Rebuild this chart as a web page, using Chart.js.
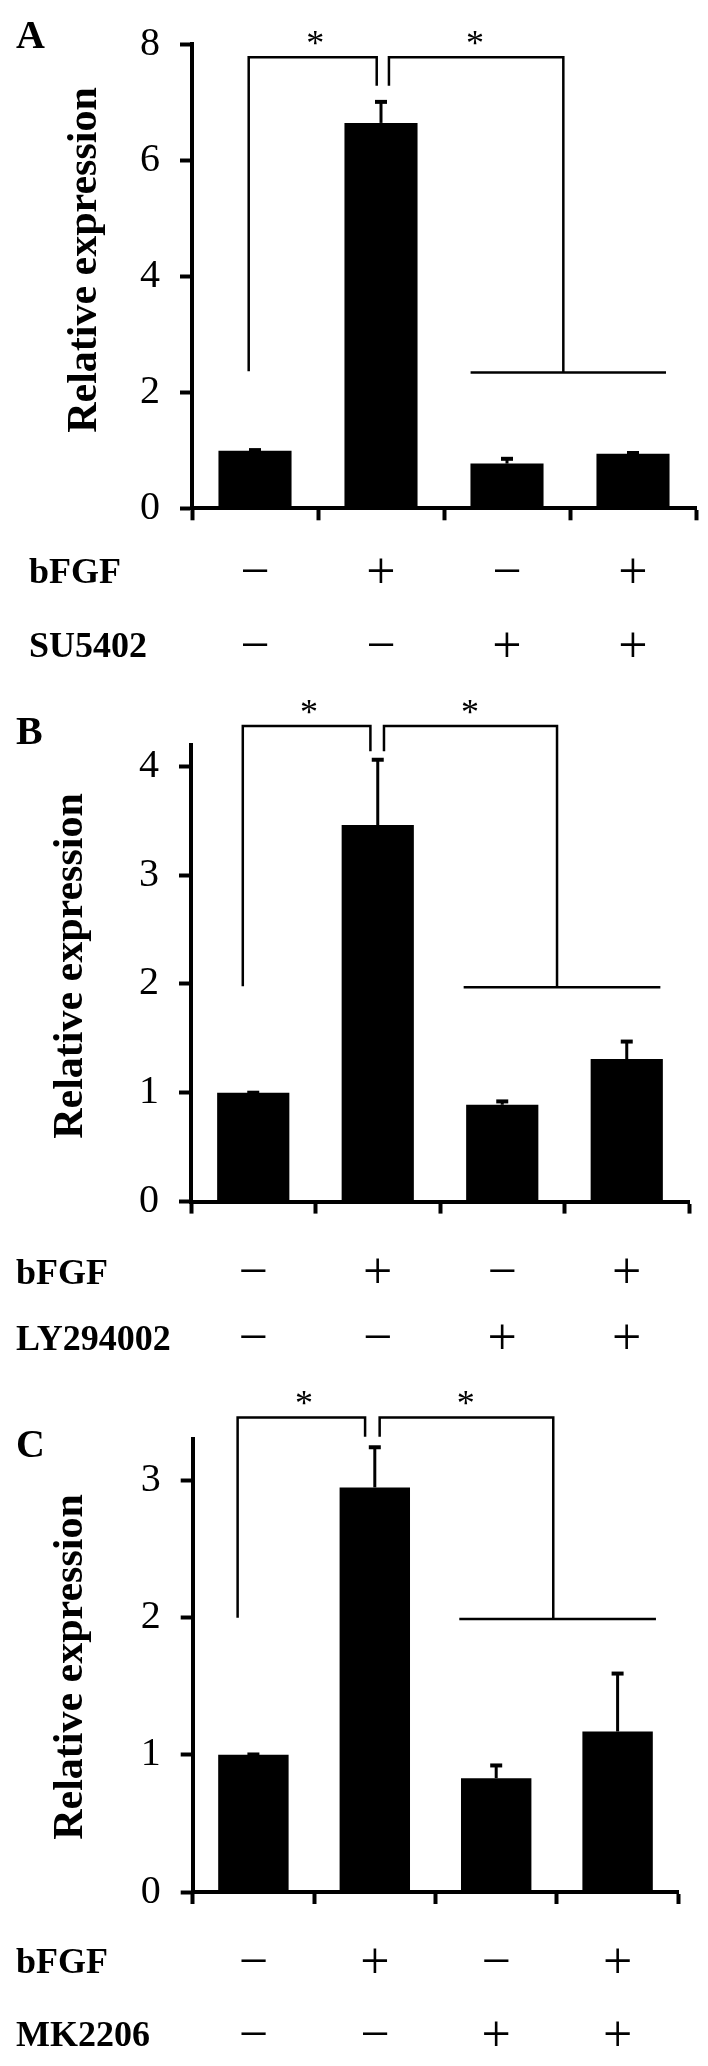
<!DOCTYPE html>
<html><head><meta charset="utf-8">
<script src="https://cdn.jsdelivr.net/npm/chart.js@4/dist/chart.umd.min.js"></script>
<style>
html,body{margin:0;padding:0;background:#fff;}
#wrap{position:relative;width:708px;height:2066px;overflow:hidden;}
canvas{position:absolute;left:0;}
</style></head><body>
<div id="wrap">
<canvas id="cA" width="708" height="679" style="top:0px"></canvas>
<canvas id="cB" width="708" height="679" style="top:679px"></canvas>
<canvas id="cC" width="708" height="708" style="top:1358px"></canvas>
</div>
<script>
// ---------- data ----------
const bFGF     = ['−', '+', '−', '+'];
const SU5402   = ['−', '−', '+', '+'];
const LY294002 = ['−', '−', '+', '+'];
const MK2206   = ['−', '−', '+', '+'];

const valuesA = [0.99, 6.64, 0.77, 0.94];
const errorsA = [0.03, 0.38, 0.10, 0.03];
const ticksA  = [0, 2, 4, 6, 8];
const maxA    = 8;

const valuesB = [1.00, 3.46, 0.89, 1.31];
const errorsB = [0.01, 0.61, 0.04, 0.17];
const ticksB  = [0, 1, 2, 3, 4];
const maxB    = 4.2;

const valuesC = [1.00, 2.95, 0.83, 1.17];
const errorsC = [0.01, 0.30, 0.10, 0.43];
const ticksC  = [0, 1, 2, 3];
const maxC    = 3.3;

// significance brackets (data units): [left leg bottom, top, inner legs bottom, right group line]
const bracketA = [2.36, 7.77, 7.28, 2.34];
const bracketB = [1.98, 4.37, 4.14, 1.97];
const bracketC = [2.00, 3.46, 3.32, 1.99];
const starText = '*';
const yTitle = 'Relative expression';

// ---------- layout ----------
const TL = 12;
const panels = [
  { id:'cA', letter:'A', rowNames:['bFGF','SU5402'], rows:[bFGF, SU5402],
    values:valuesA, errors:errorsA, ticks:ticksA, max:maxA, bracket:bracketA,
    h:679, area:{left:192, right:696, top:40.8, bottom:508.3},
    rowPad:16.7, rowLH:74, headX:29, titleX:85, titleY:260, letterY:48,
    bx:[-0.05, 0.966, 1.063, 2.447, 1.711, 3.262], stars:[0.479, 1.746] },
  { id:'cB', letter:'B', rowNames:['bFGF','LY294002'], rows:[bFGF, LY294002],
    values:valuesB, errors:errorsB, ticks:ticksB, max:maxB, bracket:bracketB,
    h:679, area:{left:191, right:689, top:65.6, bottom:522.6},
    rowPad:28, rowLH:66, headX:16, titleX:71, titleY:287, letterY:65,
    bx:[-0.084, 0.941, 1.05, 2.44, 1.69, 3.27], stars:[0.447, 1.741] },
  { id:'cC', letter:'C', rowNames:['bFGF','MK2206'], rows:[bFGF, MK2206],
    values:valuesC, errors:errorsC, ticks:ticksC, max:maxC, bracket:bracketC,
    h:708, area:{left:192.7, right:678.3, top:81.4, bottom:534},
    rowPad:23.5, rowLH:73, headX:16, titleX:71, titleY:309, letterY:99,
    bx:[-0.13, 0.92, 1.04, 2.47, 1.696, 3.316], stars:[0.417, 1.75] }
];

function annot(P) {
  return { id:'annot'+P.letter, afterDraw(chart) {
    const ctx = chart.ctx, xs = chart.scales.x, ys = chart.scales.y;
    const c0 = xs.getPixelForValue(0), cw = xs.getPixelForValue(1) - c0;
    const px = f => c0 + f * cw;
    const py = v => ys.getPixelForValue(v);
    ctx.save();
    ctx.strokeStyle = '#000'; ctx.fillStyle = '#000';
    ctx.lineCap = 'butt'; ctx.lineJoin = 'miter';
    // error bars
    const meta = chart.getDatasetMeta(0);
    P.values.forEach((v, i) => {
      const cx = meta.data[i].x, y0 = py(v), y1 = py(v + P.errors[i]);
      ctx.lineWidth = 3;
      ctx.beginPath(); ctx.moveTo(cx, y0); ctx.lineTo(cx, y1 + 1); ctx.stroke();
      ctx.lineWidth = 4;
      ctx.beginPath(); ctx.moveTo(cx - 6, y1 + 1); ctx.lineTo(cx + 6, y1 + 1); ctx.stroke();
    });
    // brackets
    const [bl, top, mid, br] = P.bracket, b = P.bx;
    ctx.lineWidth = 2.5;
    ctx.beginPath();
    ctx.moveTo(px(b[0]), py(bl)); ctx.lineTo(px(b[0]), py(top));
    ctx.lineTo(px(b[1]), py(top)); ctx.lineTo(px(b[1]), py(mid));
    ctx.stroke();
    ctx.beginPath();
    ctx.moveTo(px(b[2]), py(mid)); ctx.lineTo(px(b[2]), py(top));
    ctx.lineTo(px(b[3]), py(top)); ctx.lineTo(px(b[3]), py(br));
    ctx.stroke();
    ctx.beginPath();
    ctx.moveTo(px(b[4]), py(br)); ctx.lineTo(px(b[5]), py(br));
    ctx.stroke();
    // stars
    ctx.font = '36px "Liberation Serif"';
    ctx.textAlign = 'center'; ctx.textBaseline = 'alphabetic';
    P.stars.forEach(f => ctx.fillText(starText, px(f), py(top) - 2));
    // panel letter
    ctx.font = 'bold 40px "Liberation Serif"';
    ctx.textAlign = 'left';
    ctx.fillText(P.letter, 16, P.letterY);
    // row headers
    ctx.font = 'bold 36px "Liberation Serif"';
    ctx.textBaseline = 'middle';
    P.rowNames.forEach((n, r) => {
      const ry = xs.top + TL + P.rowPad + P.rowLH * (r + 0.5);
      ctx.fillText(n, P.headX, ry);
    });
    // y title
    ctx.translate(P.titleX, P.titleY);
    ctx.rotate(-Math.PI / 2);
    ctx.font = 'bold 42px "Liberation Serif"';
    ctx.textAlign = 'center'; ctx.textBaseline = 'middle';
    ctx.fillText(yTitle, 0, 0);
    ctx.restore();
  }};
}

function makeChart(P) {
  const labels = P.rows[0].map((_, i) => P.rows.map(r => r[i]));
  const xH = P.h - P.area.bottom;
  new Chart(document.getElementById(P.id), {
    type: 'bar',
    data: { labels, datasets: [{ data: P.values, backgroundColor: '#000', borderWidth: 0,
      barPercentage: 0.58, categoryPercentage: 1 }] },
    options: {
      responsive: false, animation: false, devicePixelRatio: 1,
      layout: { padding: { left: 0, top: P.area.top, right: 708 - P.area.right, bottom: 0 } },
      plugins: { legend: { display: false }, tooltip: { enabled: false }, title: { display: false } },
      scales: {
        x: { type: 'category', offset: true,
          grid: { offset: true, drawOnChartArea: false, drawTicks: true, tickLength: TL, tickWidth: 4, tickColor: '#000' },
          border: { display: true, color: '#000', width: 4 },
          ticks: { autoSkip: false, maxRotation: 0, minRotation: 0, color: '#000', padding: P.rowPad,
            font: { family: 'Liberation Serif', size: 52, lineHeight: P.rowLH + 'px' } },
          afterFit(s) { s.height = xH; } },
        y: { min: 0, max: P.max,
          afterBuildTicks(s) { s.ticks = P.ticks.map(v => ({ value: v })); },
          grid: { drawOnChartArea: false, drawTicks: true, tickLength: TL, tickWidth: 4, tickColor: '#000' },
          border: { display: true, color: '#000', width: 4 },
          ticks: { color: '#000', padding: 20, font: { family: 'Liberation Serif', size: 40 } },
          afterFit(s) { s.width = P.area.left; } }
      }
    },
    plugins: [annot(P)]
  });
}
panels.forEach(makeChart);
</script>
</body></html>
